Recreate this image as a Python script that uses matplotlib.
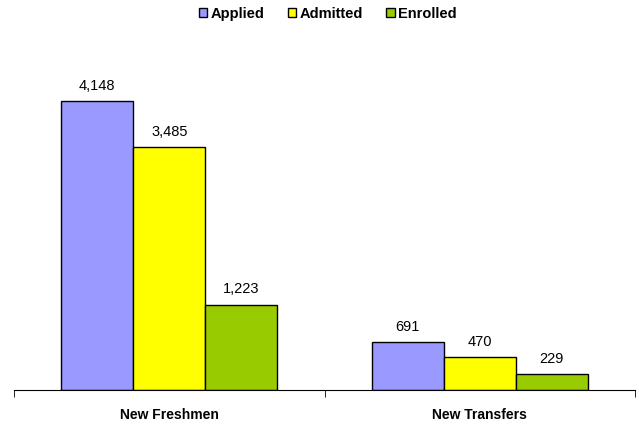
import matplotlib.pyplot as plt
from matplotlib.ticker import FixedLocator
import numpy as np

plt.rcParams['font.family'] = ['Liberation Sans', 'DejaVu Sans']

categories = ['New Freshmen', 'New Transfers']
series = ['Applied', 'Admitted', 'Enrolled']
applied = [4148, 691]
admitted = [3485, 470]
enrolled = [1223, 229]
colors = ['#9999FF', '#FFFF00', '#99CC00']

fig = plt.figure(figsize=(6.39, 4.30), dpi=100)
ax = fig.add_axes([14 / 639, 40 / 430, 621 / 639, 330 / 430])

x = np.arange(len(categories))
width = 72 / 310.5
for i, (name, vals) in enumerate(zip(series, [applied, admitted, enrolled])):
    bars = ax.bar(x + (i - 1) * width, vals, width, color=colors[i],
                  edgecolor='black', linewidth=1, label=name)
    for b, v in zip(bars, vals):
        ax.annotate(f'{v:,}', (b.get_x() + b.get_width() / 2, v),
                    xytext=(0, 6), textcoords='offset points',
                    ha='center', va='bottom', fontsize=10.5)

ax.set_xlim(-0.5, 1.5)
ax.set_ylim(0, 4148 * 330 / 289)
for s in ['top', 'right', 'left']:
    ax.spines[s].set_visible(False)
ax.spines['bottom'].set_color('black')
ax.set_yticks([])
ax.set_xticks(x)
ax.set_xticklabels(categories, fontsize=10, fontweight='bold')
ax.tick_params(axis='x', which='major', length=0, pad=13)
ax.xaxis.set_minor_locator(FixedLocator([-0.5, 0.5, 1.5]))
ax.tick_params(axis='x', which='minor', length=5, color='black')

fig.legend(loc='center', bbox_to_anchor=(0.5 + 8 / 639, 1 - 14 / 430), ncol=3,
           frameon=False, handlelength=0.6, handleheight=0.6,
           handletextpad=0.2, columnspacing=1.6,
           prop={'weight': 'bold', 'size': 10.5})

fig.savefig('out.png', dpi=100)
